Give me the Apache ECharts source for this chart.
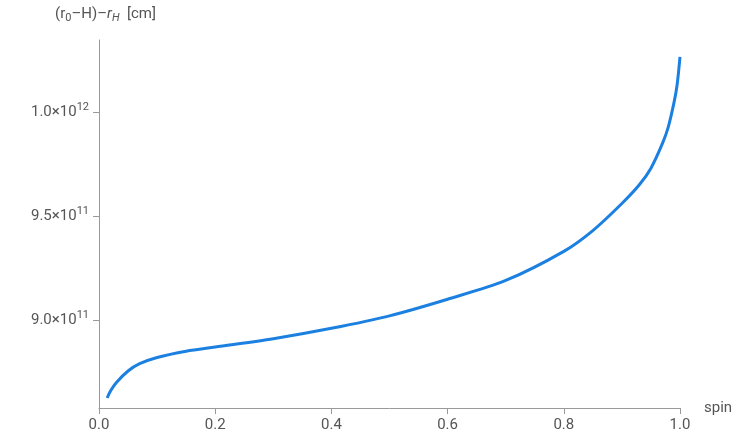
<!DOCTYPE html>
<html><head><meta charset="utf-8">
<script src="https://cdn.jsdelivr.net/npm/echarts@6/dist/echarts.min.js"></script>
<style>html,body{margin:0;padding:0;background:#fff}#c{width:747px;height:446px}</style>
</head><body><div id="c"></div>
<script>
const spin = [0.014,0.02,0.03,0.05,0.07,0.1,0.15,0.2,0.3,0.4,0.5,0.6,0.7,0.8,0.85,0.9,0.93,0.95,0.97,0.98,0.99,0.995,1.0];
const gap  = [8.625e11,8.66e11,8.70e11,8.755e11,8.79e11,8.82e11,8.85e11,8.87e11,8.91e11,8.96e11,9.02e11,9.10e11,9.19e11,9.33e11,9.43e11,9.56e11,9.65e11,9.73e11,9.85e11,9.93e11,1.005e12,1.013e12,1.0265e12];
const yTicks = [9.0e11,9.5e11,1.0e12];
const yTickLabels = {"900000000000":["9.0","11"],"950000000000":["9.5","11"],"1000000000000":["1.0","12"]};
const xTicks = [0,0.2,0.4,0.6,0.8,1.0];
const col='#555';
const chart = echarts.init(document.getElementById('c'));
chart.setOption({
  animation:false,
  grid:{left:99,right:67,top:40,bottom:38},
  xAxis:{type:'value',min:0,max:1,
    name:'spin',nameLocation:'end',nameGap:24,nameTextStyle:{color:col,fontSize:15,fontFamily:'Roboto'},
    axisLine:{lineStyle:{color:'#999'}},
    axisTick:{customValues:xTicks,length:6,lineStyle:{color:'#999'}},
    axisLabel:{customValues:xTicks,color:col,fontSize:15,fontFamily:'Roboto',formatter:v=>v.toFixed(1),margin:10},
    splitLine:{show:false}},
  yAxis:{type:'value',min:8.577e11,max:1.0346e12,
    name:'{n|(r}{sub|0}{n|–H)–}{ni|r}{subi|H}{n|  [cm]}',nameLocation:'end',nameGap:16,
    nameTextStyle:{align:'left',padding:[0,0,0,-44],rich:{
      n:{color:col,fontSize:15,fontFamily:'Roboto'},
      ni:{color:col,fontSize:15,fontFamily:'Roboto',fontStyle:'italic'},
      sub:{color:col,fontSize:11,fontFamily:'Roboto',padding:[9,0,0,0]},
      subi:{color:col,fontSize:11,fontFamily:'Roboto',fontStyle:'italic',padding:[9,0,0,0]}}},
    axisLine:{show:true,lineStyle:{color:'#999'}},
    axisTick:{show:true,customValues:yTicks,length:6,lineStyle:{color:'#999'}},
    axisLabel:{customValues:yTicks,margin:10,formatter:v=>{const t=yTickLabels[String(Math.round(v))];return t?'{b|'+t[0]+'×10}{s|'+t[1]+'}':'';},
      rich:{b:{color:col,fontSize:15,fontFamily:'Roboto'},s:{color:col,fontSize:11,fontFamily:'Roboto',padding:[0,0,10,0]}}},
    splitLine:{show:false}},
  series:[{type:'line',data:spin.map((s,i)=>[s,gap[i]]),smooth:0.3,showSymbol:false,
    lineStyle:{color:'#1c80e0',width:3}}]
});
</script></body></html>
